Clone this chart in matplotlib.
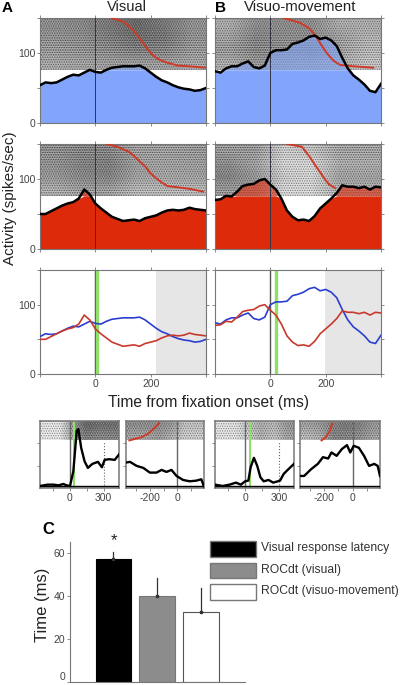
import numpy as np
import matplotlib
matplotlib.use("Agg")
import matplotlib.pyplot as plt
from matplotlib.patches import Rectangle

plt.rcParams["font.family"] = ["Liberation Sans", "DejaVu Sans"]
plt.rcParams["hatch.linewidth"] = 0.6

W, H = 400, 685
BLUE_FILL, RED_FILL = "#82a5fb", "#dc2a0b"
BLUE_LINE, RED_LINE = "#2a3fd0", "#c8392b"
SORT = "#cf3a28"
GREEN = "#8fe06a"
AXC = "#777777"

# population curves (spikes/sec), sampled every 20 ms
T = list(range(-200, 401, 20))
vis_blue = [54, 58, 57, 58, 62, 66, 69, 68, 72, 76, 73, 72, 76, 79, 80, 81,
            81, 81, 82, 78, 72, 66, 61, 58, 54, 51, 49, 48, 46, 47, 50]
vis_red = [50, 50, 54, 58, 62, 65, 67, 72, 85, 78, 65, 58, 52, 46, 43, 40,
           41, 42, 40, 44, 46, 48, 52, 55, 56, 55, 56, 59, 57, 56, 55]
vm_blue = [74, 72, 78, 81, 81, 85, 88, 80, 78, 82, 100, 104, 104, 105, 113, 115,
           118, 123, 125, 120, 122, 118, 110, 93, 78, 68, 62, 55, 46, 44, 56]
vm_red = [70, 71, 76, 75, 82, 90, 92, 93, 98, 100, 92, 85, 72, 55, 46, 41,
          42, 40, 47, 58, 65, 72, 80, 91, 89, 89, 87, 89, 85, 89, 88]

# sorted saccade markers overlaid on the rasters (time, row position)
sort_a1_t = [58, 100, 120, 140, 160, 180, 200, 220, 240, 260, 300, 340, 400]
sort_a1_y = [150, 145, 139, 131, 121, 110, 100, 93, 89, 86, 82, 81, 79]
sort_a2_t = [40, 80, 120, 140, 160, 180, 200, 220, 240, 260, 300, 340, 390]
sort_a2_y = [150, 146, 139, 133, 125, 118, 108, 101, 95, 90, 88, 86, 82]
sort_b1_t = [48, 108, 138, 162, 180, 204, 228, 252, 300, 372]
sort_b1_y = [150, 143, 136, 126, 114, 100, 89, 83, 81, 79]
sort_b2_t = [60, 114, 138, 162, 186, 210, 234]
sort_b2_y = [150, 146, 134, 120, 106, 93, 87]

# raster darkness estimated by region (rows top to bottom)
dens_a1 = [[.50, .52, .60, .68, .60, .48], [.48, .50, .58, .66, .62, .48],
           [.45, .48, .52, .58, .55, .45], [.38, .40, .42, .42, .42, .38]]
dens_a2 = [[.50, .55, .55, .42, .42, .45], [.48, .55, .58, .42, .40, .42],
           [.45, .52, .55, .40, .38, .40], [.35, .42, .42, .30, .30, .30]]
dens_b1 = [[.35, .50, .50, .50, .35, .35], [.40, .55, .50, .50, .42, .32],
           [.45, .55, .50, .55, .42, .30], [.35, .45, .42, .40, .35, .25]]
dens_b2 = [[.45, .45, .20, .25, .40, .40], [.50, .40, .15, .15, .35, .35],
           [.55, .45, .20, .15, .40, .40], [.45, .40, .15, .15, .35, .35]]
dens_c1 = [[.08, .08, .45, .70, .65, .65], [.08, .08, .40, .60, .55, .55]]
dens_c2 = [[.50, .50, .50, .45, .25, .25], [.40, .40, .45, .35, .20, .20]]
dens_c3 = [[.10, .10, .25, .35, .30, .45], [.10, .10, .20, .35, .25, .40]]
dens_c4 = [[.40, .45, .55, .60, .55, .45], [.30, .35, .55, .55, .50, .40]]

# zoomed single-neuron traces (% of panel height)
c1_t = [-268, -200, -150, -100, -60, -30, 0, 30, 60, 75, 100, 130, 160, 200, 250, 285, 310, 350, 400, 438]
c1_y = [3, 5, 5, 4, 6, 4, 3, 25, 85, 88, 60, 40, 30, 36, 39, 31, 42, 43, 42, 50]
c2_t = [-369, -340, -293, -245, -198, -150, -114, -79, -43, -7, 40, 88, 135, 171, 188]
c2_y = [38, 39, 33, 30, 23, 23, 27, 24, 27, 18, 12, 10, 11, 13, 3]
c3_t = [-265, -196, -138, -80, -37, 0, 29, 49, 78, 107, 135, 164, 207, 248, 308, 340, 369, 431]
c3_y = [5, 3, 5, 8, 5, 10, 11, 31, 45, 33, 16, 10, 12, 8, 11, 21, 26, 36]
c4_t = [-367, -338, -290, -243, -207, -171, -148, -112, -76, -40, -17, 7, 43, 79, 114, 150, 174, 190]
c4_y = [18, 18, 28, 36, 46, 44, 53, 48, 58, 64, 53, 63, 60, 48, 33, 36, 33, 18]
sort_c2_t = [-345, -257, -210, -162, -131]
sort_c2_y = [71, 76, 81, 90, 97]
sort_c4_t = [-217, -186, -160, -143]
sort_c4_y = [71, 76, 85, 96]

# latency summary
bar_vals = [57, 40, 32.5]
bar_tops = [60.5, 48.5, 43.5]
bar_cols = ["black", "#8c8c8c", "white"]
bar_labels = ["Visual response latency", "ROCdt (visual)", "ROCdt (visuo-movement)"]

fig = plt.figure(figsize=(W / 100, H / 100), dpi=100)


def box(x0, y0, x1, y1):
    return fig.add_axes([x0 / W, 1 - y1 / H, (x1 - x0) / W, (y1 - y0) / H])


def ftext(x, y, s, **kw):
    kw.setdefault("ha", "center")
    kw.setdefault("va", "center")
    fig.text(x / W, 1 - y / H, s, **kw)


def style(ax, lw=0.8):
    for s in ax.spines.values():
        s.set_color(AXC)
        s.set_linewidth(lw)
    ax.tick_params(length=2, width=0.6, color=AXC, labelsize=7.5, pad=1.5, labelcolor="#444444")


def raster(ax, dens, x0, x1, y0, y1):
    # shaded density plus two dot hatches, the dots only give the raster its grain
    ax.imshow(dens, extent=[x0, x1, y0, y1], cmap="gray_r", vmin=0, vmax=1,
              aspect="auto", interpolation="bilinear", zorder=1)
    ax.add_patch(Rectangle((x0, y0), x1 - x0, y1 - y0, facecolor="none", hatch="..........",
                           edgecolor=(1, 1, 1, 0.6), lw=0, zorder=1.4))
    ax.add_patch(Rectangle((x0, y0), x1 - x0, y1 - y0, facecolor="none", hatch=".......",
                           edgecolor=(0, 0, 0, 0.45), lw=0, zorder=1.5))


def raster_panel(box_px, curve, dens, st, sy, fill, ylabels=True):
    ax = box(*box_px)
    raster(ax, dens, -200, 400, 76, 150)
    c = np.array(curve, dtype=float)
    ax.fill_between(T, 0, np.minimum(c, 76), color=fill, lw=0, zorder=2)
    ax.fill_between(T, 76, c, where=c > 76, interpolate=True, color=fill, alpha=0.6, lw=0, zorder=2)
    ax.plot(st, sy, color=SORT, lw=1.4, zorder=3)
    ax.axvline(0, color="#333344", lw=0.7, zorder=3)
    ax.plot(T, curve, color="black", lw=1.8, zorder=4)
    ax.set_xlim(-200, 400)
    ax.set_ylim(0, 150)
    ax.set_xticks([-200, 0, 200, 400])
    ax.set_xticklabels([])
    ax.set_yticks([0, 50, 100, 150])
    ax.set_yticklabels(["0", "", "100", ""] if ylabels else [])
    ax.tick_params(right=True, top=True)
    style(ax)
    return ax


def overlay_panel(box_px, blue, red, shade, green, ylabels=True):
    ax = box(*box_px)
    ax.axvspan(shade, 400, color="#e6e6e6", lw=0, zorder=0)
    ax.axvline(0, color="#555555", lw=1, zorder=1)
    ax.axvline(green, color=GREEN, lw=2.4, zorder=2)
    ax.plot(T, blue, color=BLUE_LINE, lw=1.2, zorder=3)
    ax.plot(T, red, color=RED_LINE, lw=1.2, zorder=3)
    ax.set_xlim(-200, 400)
    ax.set_ylim(0, 150)
    ax.set_xticks([-200, 0, 200, 400])
    ax.set_xticklabels(["", "0", "200", ""])
    ax.set_yticks([0, 50, 100, 150])
    ax.set_yticklabels(["0", "", "100", ""] if ylabels else [])
    ax.tick_params(right=True, top=True)
    style(ax)
    return ax


def small_panel(box_px, xlim, dens, t, y, ticks, labels, green=None, dotted=None, sort=None):
    ax = box(*box_px)
    raster(ax, dens, xlim[0], xlim[1], 71, 100)
    ax.axvline(0, color="#666666", lw=1, zorder=2)
    if dotted is not None:
        ax.plot([dotted, dotted], [5, 70], color="#666666", lw=0.8, ls=":", zorder=2)
    if green is not None:
        ax.axvline(green, color=GREEN, lw=1.5, zorder=2)
    if sort is not None:
        ax.plot(sort[0], sort[1], color=SORT, lw=1.4, zorder=3)
    ax.axhline(2.5, color="black", lw=1, zorder=3)
    ax.plot(t, y, color="black", lw=1.7, zorder=4)
    ax.set_xlim(*xlim)
    ax.set_ylim(0, 100)
    ax.set_xticks(ticks)
    ax.set_xticklabels(labels)
    ax.set_yticks([33, 67])
    ax.set_yticklabels([])
    style(ax, lw=1.1)
    return ax


raster_panel((40, 18, 206, 123), vis_blue, dens_a1, sort_a1_t, sort_a1_y, BLUE_FILL)
raster_panel((215, 18, 381, 123), vm_blue, dens_b1, sort_b1_t, sort_b1_y, BLUE_FILL, ylabels=False)
raster_panel((40, 144, 206, 249), vis_red, dens_a2, sort_a2_t, sort_a2_y, RED_FILL)
raster_panel((215, 144, 381, 249), vm_red, dens_b2, sort_b2_t, sort_b2_y, RED_FILL, ylabels=False)
overlay_panel((40, 270, 206, 374), vis_blue, vis_red, 220, 7)
overlay_panel((215, 270, 381, 374), vm_blue, vm_red, 198, 20, ylabels=False)

small_panel((40, 421, 119, 488), (-268, 438), dens_c1, c1_t, c1_y,
            [-150, 0, 150, 300], ["", "0", "", "300"], green=40, dotted=300)
small_panel((126, 421, 204, 488), (-369, 190), dens_c2, c2_t, c2_y,
            [-300, -200, -100, 0, 100], ["", "-200", "", "0", ""], sort=(sort_c2_t, sort_c2_y))
small_panel((215, 421, 294, 488), (-265, 431), dens_c3, c3_t, c3_y,
            [-150, 0, 150, 300], ["", "0", "", "300"], green=40, dotted=300)
small_panel((300, 421, 380, 488), (-367, 190), dens_c4, c4_t, c4_y,
            [-300, -200, -100, 0, 100], ["", "-200", "", "0", ""], sort=(sort_c4_t, sort_c4_y))

# panel C
ax = box(70, 542, 245, 682)
xpos = [0, 1, 2]
ax.bar(xpos, bar_vals, width=0.8, color=bar_cols, edgecolor=["black", "#777777", "#555555"], lw=0.8, zorder=2)
for x, v, top in zip(xpos, bar_vals, bar_tops):
    ax.plot([x, x], [v, top], color="#333333", lw=0.9, zorder=3)
    ax.plot(x, v, marker="s", ms=1.5, color="#333333", zorder=3)
ax.set_xlim(-0.98, 3.0)
ax.set_ylim(0, 65)
ax.set_xticks([])
ax.set_yticks([0, 20, 40, 60])
ax.spines[["top", "right"]].set_visible(False)
style(ax)
ax.tick_params(labelsize=7.5)
ax.get_yticklabels()[0].set_verticalalignment("bottom")

for (y0, y1), col, lab in zip([(541, 557), (563, 578), (584, 600)], bar_cols, bar_labels):
    fig.patches.append(Rectangle((210 / W, 1 - y1 / H), 46 / W, (y1 - y0) / H, transform=fig.transFigure,
                                 facecolor=col, edgecolor="#777777", lw=1))
    ftext(261, (y0 + y1) / 2 - 1, lab, ha="left", fontsize=8.7, color="#333333")

ftext(7, 8, "A", fontsize=11, fontweight="bold")
ftext(220, 8, "B", fontsize=11, fontweight="bold")
ftext(48, 530, "C", fontsize=12, fontweight="bold")
ftext(127, 7, "Visual", fontsize=10.5, color="#222222")
ftext(300, 7, "Visuo-movement", fontsize=10.8, color="#222222")
ftext(10, 198, "Activity (spikes/sec)", fontsize=11, rotation=90, color="#222222")
ftext(209, 403, "Time from fixation onset (ms)", fontsize=11.2, color="#222222")
ftext(43, 605, "Time (ms)", fontsize=12, rotation=90, color="#222222")
ftext(114, 541, "*", fontsize=12, color="#222222")

fig.savefig("out.png", dpi=100)
